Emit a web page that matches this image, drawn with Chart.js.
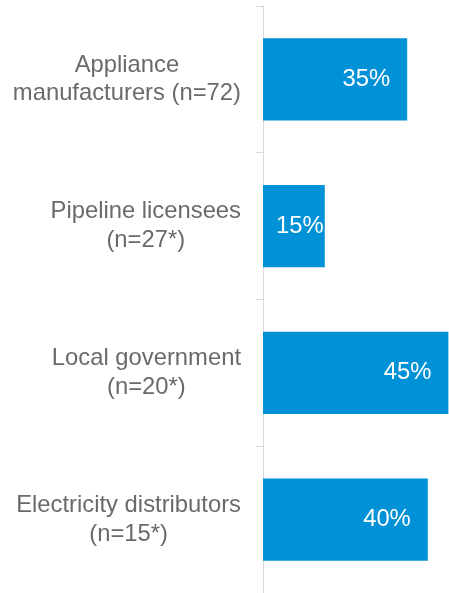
<!DOCTYPE html>
<html><head><meta charset="utf-8">
<script src="https://cdn.jsdelivr.net/npm/chart.js@4/dist/chart.umd.min.js"></script>
<style>html,body{margin:0;padding:0;background:#fff}#wrap{width:449px;height:593px;position:relative}</style>
</head><body><div id="wrap"><canvas id="c"></canvas></div>
<script>
const categories = [
  ["Appliance", "manufacturers (n=72)"],
  ["Pipeline licensees", "(n=27*)"],
  ["Local government", "(n=20*)"],
  ["Electricity distributors", "(n=15*)"]
];
const values = [35, 15, 45, 40];
const valueLabels = ["35%", "15%", "45%", "40%"];

const FONT_SIZE = 23.8;
const FONT = FONT_SIZE + 'px "Liberation Sans", Arial, sans-serif';
const LABEL_COLOR = '#6a6a6a';

const catLabelPlugin = {
  id: 'catLabels',
  afterDraw(chart) {
    const s = chart.scales.y, ctx = chart.ctx;
    ctx.save();
    ctx.font = FONT;
    ctx.fillStyle = LABEL_COLOR;
    ctx.textAlign = 'center';
    ctx.textBaseline = 'middle';
    const lineH = 28.7;
    const right = s.right - 7 - 15;
    categories.forEach((lines, i) => {
      const y = s.getPixelForTick(i);
      const bw = Math.max(...lines.map(l => ctx.measureText(l).width));
      const cx = right - bw / 2;
      const y0 = y - (lines.length - 1) * lineH / 2;
      lines.forEach((l, j) => ctx.fillText(l, cx, y0 + j * lineH));
    });
    ctx.restore();
  }
};

const valueLabelPlugin = {
  id: 'valueLabels',
  afterDatasetsDraw(chart) {
    const meta = chart.getDatasetMeta(0), ctx = chart.ctx;
    ctx.save();
    ctx.font = FONT;
    ctx.fillStyle = '#ffffff';
    ctx.textAlign = 'left';
    ctx.textBaseline = 'middle';
    meta.data.forEach((el, i) => {
      const t = valueLabels[i];
      const w = ctx.measureText(t).width;
      let left = el.x - 17 - w;
      if (left < el.base + 13) left = el.base + 13;
      ctx.fillText(t, left, el.y);
    });
    ctx.restore();
  }
};

new Chart(document.getElementById('c'), {
  type: 'bar',
  data: {
    labels: categories,
    datasets: [{
      data: values,
      backgroundColor: '#0091D6',
      borderWidth: 0,
      barPercentage: 0.56,
      categoryPercentage: 1.0
    }]
  },
  options: {
    indexAxis: 'y',
    responsive: true,
    maintainAspectRatio: false,
    animation: false,
    devicePixelRatio: 1,
    layout: { padding: { top: 6, bottom: 0, left: 0, right: 0 } },
    plugins: { legend: { display: false }, tooltip: { enabled: false } },
    scales: {
      x: { display: false, min: 0, max: 45.15 },
      y: {
        ticks: { display: false },
        grid: { display: true, drawOnChartArea: false, drawTicks: true, tickLength: 7, color: '#d9d9d9', offset: true },
        border: { display: true, color: '#d9d9d9', width: 1 },
        afterFit(s) { s.width = 263; }
      }
    }
  },
  plugins: [catLabelPlugin, valueLabelPlugin]
});
</script>
</body></html>
